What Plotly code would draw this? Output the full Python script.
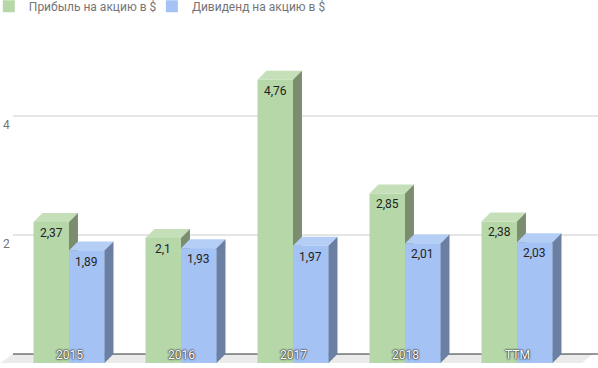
import plotly.graph_objects as go

categories = ["2015", "2016", "2017", "2018", "TTM"]
profit = [2.37, 2.1, 4.76, 2.85, 2.38]
dividend = [1.89, 1.93, 1.97, 2.01, 2.03]
series_names = ["Прибыль на акцию в $", "Дивиденд на акцию в $"]
y_ticks = [2, 4]

FRONT = ["#b6d7a8", "#a4c2f4"]
TOP = ["#c5e0b9", "#b5cef6"]
SIDE = ["#7a8e6f", "#6b7fa2"]

W = 0.317      # bar width in x units
DX = 0.08      # depth offset in x units
DY = 0.151     # depth offset in y units
X0, X1 = -0.6161, 4.7232
Y0, Y1 = -0.084, 5.429

xs = list(range(len(categories)))
fig = go.Figure()

shapes = []
shapes.append(dict(type="path", xref="x", yref="y", layer="below",
                   path=f"M{-0.5-DX*1.4},0 L{4.5+DX},0 L{4.5+2.2*DX},{DY} L{-0.5},{DY} Z",
                   fillcolor="#ebebeb", line=dict(width=0)))
for t in y_ticks:
    shapes.append(dict(type="line", xref="x", yref="y", layer="below",
                       x0=-0.5, x1=X1, y0=t + DY, y1=t + DY,
                       line=dict(color="#cccccc", width=1)))
shapes.append(dict(type="line", xref="x", yref="y", layer="below",
                   x0=-0.5, x1=X1, y0=DY, y1=DY, line=dict(color="#333333", width=1)))

legend_ids = ["legend", "legend2"]
for s, (vals, off) in enumerate([(profit, -W), (dividend, 0.0)]):
    fig.add_trace(go.Bar(x=xs, y=vals, width=W, offset=off, name=series_names[s],
                         marker=dict(color=FRONT[s], line=dict(width=0)),
                         legend=legend_ids[s], hoverinfo="skip"))

def poly(px, py, color):
    fig.add_trace(go.Scatter(x=px, y=py, fill="toself", fillcolor=color, mode="lines",
                             line=dict(width=0, color=color), showlegend=False,
                             hoverinfo="skip"))

for i in xs:
    for s, (vals, off) in enumerate([(profit, -W), (dividend, 0.0)]):
        v = vals[i]
        xl = i + off
        xr = xl + W
        if s == 1:
            poly([xl, xr, xr, xl, xl], [0, 0, v, v, 0], FRONT[s])
        poly([xl, xl + DX, xr + DX, xr, xl], [v, v + DY, v + DY, v, v], TOP[s])
        poly([xr, xr + DX, xr + DX, xr, xr], [0, DY, v + DY, v, 0], SIDE[s])

annotations = []
for s, (vals, off) in enumerate([(profit, -W), (dividend, 0.0)]):
    for i in xs:
        annotations.append(dict(x=i + off + W / 2, y=vals[i], xref="x", yref="y",
                                text=str(vals[i]).replace(".", ","), showarrow=False,
                                yshift=-11, font=dict(family="Roboto", size=12, color="#222222")))
for i in xs:
    annotations.append(dict(x=i, y=0, xref="x", yref="y", text=categories[i], showarrow=False,
                            yshift=8, font=dict(family="Roboto", size=12, color="#ffffff",
                                                shadow="0px 0px 2px #333, 0px 0px 2px #333, 0px 0px 1px #333")))

legend_style = dict(orientation="h", xanchor="left", y=1.103, yanchor="middle",
                    font=dict(family="Roboto", size=12, color="#757575"),
                    itemwidth=30, bgcolor="rgba(0,0,0,0)")

fig.update_layout(
    width=598, height=368,
    margin=dict(l=0, r=0, t=40, b=0, autoexpand=False),
    paper_bgcolor="white", plot_bgcolor="white",
    barmode="overlay",
    shapes=shapes, annotations=annotations,
    showlegend=True,
    legend=dict(x=-0.0187, **legend_style),
    legend2=dict(x=0.254, **legend_style),
    font=dict(family="Roboto"),
    xaxis=dict(range=[X0, X1], showgrid=False, zeroline=False, showticklabels=False,
               showline=False, fixedrange=True),
    yaxis=dict(range=[Y0, Y1], showgrid=False, zeroline=False, showline=False,
               tickvals=y_ticks, ticktext=[str(t) for t in y_ticks],
               ticklabelposition="inside", ticks="",
               tickfont=dict(family="Roboto", size=12, color="#757575")),
)

fig.write_html("out.html", config={"displayModeBar": False},
               post_script="document.body.style.margin='0';document.body.style.overflow='hidden';")
